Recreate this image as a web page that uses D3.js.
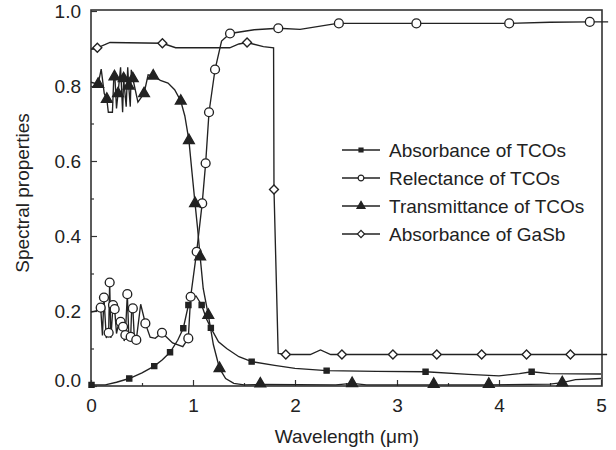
<!DOCTYPE html>
<html>
<head>
<meta charset="utf-8">
<script src="https://cdn.jsdelivr.net/npm/d3@7"></script>
<style>
  body { margin: 0; background: #fff; }
  text { font-family: "Liberation Sans", Arial, sans-serif; fill: #222; }
</style>
</head>
<body>
<div id="chart"></div>
<script>
// absorbance of TCOs (filled squares)
var absTcoLine = [[0,0.003],[0.14,0.003],[0.25,0.01],[0.375,0.02],[0.5,0.035],[0.62,0.053],[0.7,0.07],[0.775,0.09],[0.85,0.122],[0.905,0.154],[0.955,0.216],[1.0,0.236],[1.03,0.24],[1.085,0.216],[1.13,0.18],[1.175,0.155],[1.25,0.118],[1.33,0.1],[1.45,0.078],[1.575,0.065],[1.8,0.055],[2.0,0.047],[2.31,0.041],[2.8,0.039],[3.28,0.038],[3.7,0.031],[4.0,0.027],[4.2,0.033],[4.32,0.038],[4.5,0.033],[5.0,0.032]];
var absTcoMarks = [[0.005,0.003],[0.375,0.02],[0.62,0.053],[0.775,0.09],[0.905,0.154],[0.955,0.216],[1.085,0.216],[1.175,0.155],[1.575,0.065],[2.31,0.041],[3.28,0.038],[4.32,0.038]];

// reflectance of TCOs (open circles)
var refTcoLine = [[0,0.197],[0.05,0.2],[0.095,0.209],[0.112,0.135],[0.127,0.236],[0.15,0.128],[0.173,0.142],[0.183,0.276],[0.195,0.128],[0.216,0.216],[0.232,0.205],[0.25,0.14],[0.27,0.165],[0.29,0.171],[0.314,0.158],[0.325,0.12],[0.337,0.136],[0.356,0.245],[0.372,0.125],[0.389,0.131],[0.4,0.215],[0.41,0.207],[0.427,0.118],[0.444,0.123],[0.487,0.218],[0.533,0.167],[0.58,0.13],[0.63,0.127],[0.696,0.142],[0.8,0.115],[0.9,0.105],[0.954,0.127],[0.977,0.238],[1.036,0.358],[1.09,0.487],[1.124,0.594],[1.157,0.73],[1.216,0.844],[1.28,0.92],[1.363,0.94],[1.6,0.95],[1.836,0.954],[2.05,0.951],[2.37,0.965],[2.43,0.967],[3.19,0.967],[4.1,0.967],[4.5,0.97],[4.89,0.971],[5.07,0.971]];
var refTcoMarks = [[0.095,0.209],[0.127,0.236],[0.173,0.142],[0.183,0.276],[0.216,0.216],[0.232,0.205],[0.29,0.171],[0.314,0.158],[0.337,0.136],[0.356,0.245],[0.389,0.131],[0.41,0.207],[0.444,0.123],[0.533,0.167],[0.696,0.142],[0.954,0.127],[0.977,0.238],[1.036,0.358],[1.09,0.487],[1.124,0.594],[1.157,0.73],[1.216,0.844],[1.363,0.94],[1.836,0.954],[2.43,0.967],[3.19,0.967],[4.1,0.967],[4.89,0.971]];

// transmittance of TCOs (filled triangles)
var traTcoLine = [[0,0.81],[0.07,0.805],[0.1,0.845],[0.13,0.78],[0.155,0.765],[0.17,0.73],[0.21,0.73],[0.225,0.835],[0.235,0.82],[0.25,0.74],[0.265,0.78],[0.29,0.85],[0.31,0.73],[0.32,0.82],[0.345,0.745],[0.36,0.85],[0.37,0.8],[0.385,0.745],[0.395,0.843],[0.41,0.82],[0.46,0.757],[0.52,0.78],[0.56,0.83],[0.61,0.827],[0.68,0.815],[0.755,0.808],[0.82,0.79],[0.88,0.76],[0.92,0.72],[0.96,0.655],[0.99,0.57],[1.02,0.487],[1.045,0.42],[1.07,0.345],[1.1,0.26],[1.15,0.189],[1.2,0.11],[1.26,0.047],[1.32,0.02],[1.4,0.007],[1.5,0.003],[1.66,0.004],[2.4,0.003],[2.56,0.007],[2.7,0.003],[3.36,0.003],[3.9,0.003],[4.5,0.005],[4.62,0.009],[4.75,0.017],[5.0,0.02]];
var traTcoMarks = [[0.07,0.805],[0.155,0.765],[0.23,0.825],[0.265,0.78],[0.32,0.82],[0.37,0.8],[0.41,0.82],[0.52,0.78],[0.61,0.827],[0.88,0.76],[0.96,0.655],[1.02,0.487],[1.07,0.345],[1.15,0.189],[1.26,0.047],[1.66,0.006],[2.56,0.007],[3.36,0.005],[3.9,0.005],[4.62,0.009]];

// absorbance of GaSb (open diamonds)
var absGasbLine = [[0,0.898],[0.062,0.902],[0.186,0.916],[0.7,0.914],[0.83,0.902],[1.36,0.902],[1.45,0.912],[1.53,0.916],[1.69,0.905],[1.79,0.902],[1.794,0.524],[1.835,0.087],[1.91,0.084],[2.15,0.084],[2.25,0.096],[2.35,0.084],[5.06,0.084]];
var absGasbMarks = [[0.062,0.902],[0.7,0.914],[1.53,0.916],[1.794,0.524],[1.91,0.084],[2.46,0.084],[2.96,0.084],[3.39,0.084],[3.83,0.084],[4.27,0.084],[4.7,0.084]];

var xTicks = [0, 1, 2, 3, 4, 5];
var yTicks = [0, 0.2, 0.4, 0.6, 0.8, 1.0];
var legendNames = ['Absorbance of TCOs', 'Relectance of TCOs', 'Transmittance of TCOs', 'Absorbance of GaSb'];

var W = 616, H = 450;
var plotL = 91, plotR = 602, plotT = 11, plotB = 386;
var ink = '#222';

var x = d3.scaleLinear().domain([0, 5]).range([plotL, 601]);
var y = d3.scaleLinear().domain([0, 1]).range([plotB, plotT]);

var svg = d3.select('#chart').append('svg')
  .attr('width', W)
  .attr('height', H);

// frame
svg.append('rect')
  .attr('x', plotL).attr('y', plotT - 1)
  .attr('width', plotR - plotL).attr('height', plotB - plotT + 1)
  .attr('fill', 'none').attr('stroke', '#333').attr('stroke-width', 1.6);

// axes with inward ticks
var xAxis = svg.append('g').attr('transform', 'translate(0,' + plotB + ')')
  .call(d3.axisBottom(x).tickValues(xTicks).tickSize(-6).tickPadding(13).tickFormat(d3.format('d')));
var xMinor = svg.append('g').attr('transform', 'translate(0,' + plotB + ')')
  .call(d3.axisBottom(x).tickValues([0.5, 1.5, 2.5, 3.5, 4.5]).tickSize(-3).tickFormat(''));
var yAxis = svg.append('g').attr('transform', 'translate(' + plotL + ',0)')
  .call(d3.axisLeft(y).tickValues(yTicks).tickSize(-6).tickPadding(10).tickFormat(d3.format('.1f')));
var yMinor = svg.append('g').attr('transform', 'translate(' + plotL + ',0)')
  .call(d3.axisLeft(y).tickValues([0.1, 0.3, 0.5, 0.7, 0.9]).tickSize(-3).tickFormat(''));

[xAxis, xMinor, yAxis, yMinor].forEach(function(g){
  g.select('.domain').remove();
  g.selectAll('line').attr('stroke', '#333').attr('stroke-width', 1.2);
  g.selectAll('text').attr('font-size', 19).attr('fill', ink)
    .attr('font-family', '"Liberation Sans", Arial, sans-serif');
});
// the 0.0 label sits a little above the axis in the original
yAxis.selectAll('.tick').filter(function(d){ return d === 0; }).select('text').attr('dy', '0.05em');

svg.append('text')
  .attr('x', 347).attr('y', 443)
  .attr('text-anchor', 'middle').attr('font-size', 19)
  .text('Wavelength (\u03bcm)');

svg.append('text')
  .attr('transform', 'translate(29,193) rotate(-90)')
  .attr('text-anchor', 'middle').attr('font-size', 19)
  .text('Spectral properties');

var line = d3.line()
  .x(function(d){ return x(d[0]); })
  .y(function(d){ return y(d[1]); });

var series = [
  { line: absTcoLine, marks: absTcoMarks, type: d3.symbolSquare, size: 26, fill: ink, rot: 0, lsize: 16 },
  { line: refTcoLine, marks: refTcoMarks, type: d3.symbolCircle, size: 62, fill: '#fff', rot: 0, lsize: 26 },
  { line: traTcoLine, marks: traTcoMarks, type: d3.symbolTriangle, size: 50, fill: ink, rot: 0, lsize: 28 },
  { line: absGasbLine, marks: absGasbMarks, type: d3.symbolSquare, size: 40, fill: '#fff', rot: 45, lsize: 26 }
];

series.forEach(function(s){
  svg.append('path')
    .datum(s.line)
    .attr('d', line)
    .attr('fill', 'none')
    .attr('stroke', ink)
    .attr('stroke-width', 1.35);
});

series.forEach(function(s){
  svg.selectAll(null)
    .data(s.marks)
    .enter()
    .append('path')
      .attr('d', d3.symbol().type(s.type).size(s.size))
      .attr('transform', function(d){ return 'translate(' + x(d[0]) + ',' + y(d[1]) + ') rotate(' + s.rot + ')'; })
      .attr('fill', s.fill)
      .attr('stroke', ink)
      .attr('stroke-width', 1.35);
});

// legend
var legend = svg.append('g');
var rowY = [150, 178, 206, 234];
series.forEach(function(s, i){
  var g = legend.append('g').attr('transform', 'translate(0,' + rowY[i] + ')');
  g.append('line').attr('x1', 342).attr('x2', 380).attr('y1', 0).attr('y2', 0)
    .attr('stroke', ink).attr('stroke-width', 1.35);
  g.append('path')
    .attr('d', d3.symbol().type(s.type).size(s.lsize))
    .attr('transform', 'translate(361,0) rotate(' + s.rot + ')')
    .attr('fill', s.fill).attr('stroke', ink).attr('stroke-width', 1.2);
  g.append('text')
    .attr('x', 389).attr('y', 0).attr('dy', '0.35em')
    .attr('font-size', 19)
    .text(legendNames[i]);
});
</script>
</body>
</html>
